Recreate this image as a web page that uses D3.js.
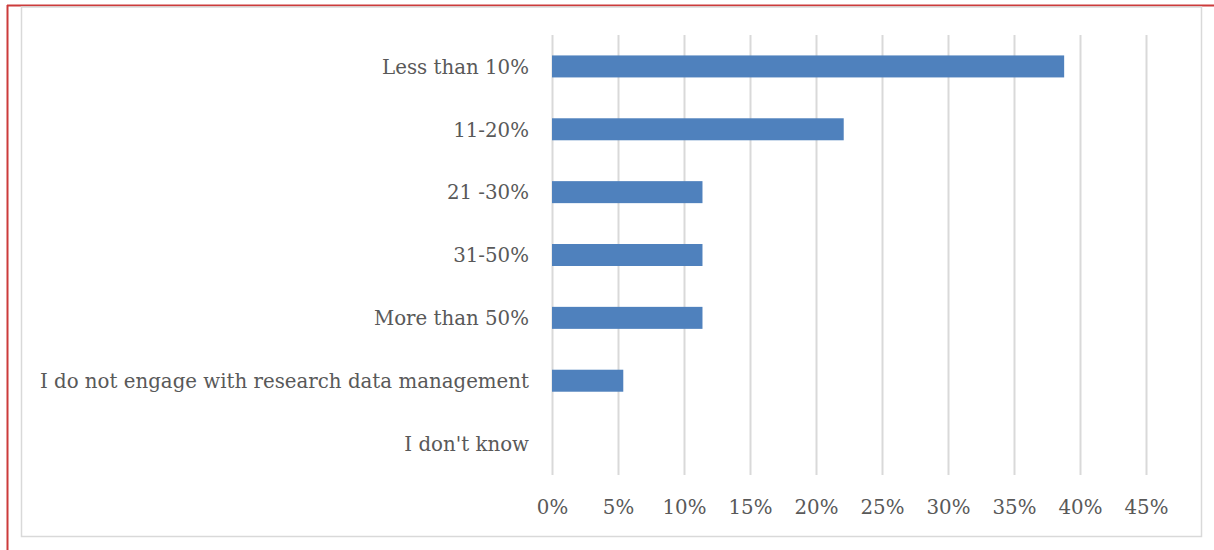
<!DOCTYPE html>
<html>
<head>
<meta charset="utf-8">
<script src="https://cdn.jsdelivr.net/npm/d3@7/dist/d3.min.js"></script>
<style>
  html, body { margin: 0; padding: 0; background: #fff; }
  svg { display: block; }
</style>
</head>
<body>
<svg id="chart" width="1214" height="550"></svg>
<script>
// Share of working time spent on research data management
const categories = [
  "Less than 10%",
  "11-20%",
  "21 -30%",
  "31-50%",
  "More than 50%",
  "I do not engage with research data management",
  "I don't know"
];
const shares = [38.8, 22.1, 11.4, 11.4, 11.4, 5.4, 0];
const tickValues = [0, 5, 10, 15, 20, 25, 30, 35, 40, 45];

const svg = d3.select("#chart");
const W = 1214, H = 550;

// frame around the figure
svg.append("line")
  .attr("x1", 7).attr("x2", W).attr("y1", 5.5).attr("y2", 5.5)
  .attr("stroke", "#cc3b3b").attr("stroke-width", 2);
svg.append("line")
  .attr("x1", 7.5).attr("x2", 7.5).attr("y1", 5).attr("y2", H)
  .attr("stroke", "#cc3b3b").attr("stroke-width", 2);

// chart area border
svg.append("rect")
  .attr("x", 21.5).attr("y", 7).attr("width", 1180).attr("height", 529.5)
  .attr("fill", "#fff").attr("stroke", "#d9d9d9").attr("stroke-width", 1.5);

const plot = { left: 552, right: 1146, top: 35, bottom: 475 };

const x = d3.scaleLinear().domain([0, 45]).range([plot.left, plot.right]);
const y = d3.scaleBand().domain(categories).range([plot.top, plot.bottom]).paddingInner(0.65).paddingOuter(0.325);

const font = "'DejaVu Serif', 'Liberation Serif', serif";
const fontSize = "19.8px";

// vertical gridlines
const xAxis = d3.axisBottom(x).tickValues(tickValues).tickFormat(d => d + "%").tickSize(-(plot.bottom - plot.top)).tickPadding(25);
const gx = svg.append("g").attr("transform", `translate(0,${plot.bottom})`).call(xAxis);
gx.select(".domain").remove();
gx.selectAll(".tick line").attr("stroke", "#d9d9d9").attr("stroke-width", 2);
gx.selectAll(".tick text")
  .attr("fill", "#595959")
  .style("font-family", font)
  .style("font-size", fontSize);

// bars
svg.append("g").selectAll("rect")
  .data(categories.map((c, i) => ({ c, v: shares[i] })))
  .join("rect")
  .attr("x", x(0))
  .attr("y", d => y(d.c))
  .attr("width", d => x(d.v) - x(0))
  .attr("height", y.bandwidth())
  .attr("fill", "#4f81bd");

// category labels
const yAxis = d3.axisLeft(y).tickSize(0).tickPadding(23);
const gy = svg.append("g").attr("transform", `translate(${plot.left},1)`).call(yAxis);
gy.select(".domain").remove();
gy.selectAll(".tick text")
  .attr("fill", "#595959")
  .style("font-family", font)
  .style("font-size", fontSize);
</script>
</body>
</html>
